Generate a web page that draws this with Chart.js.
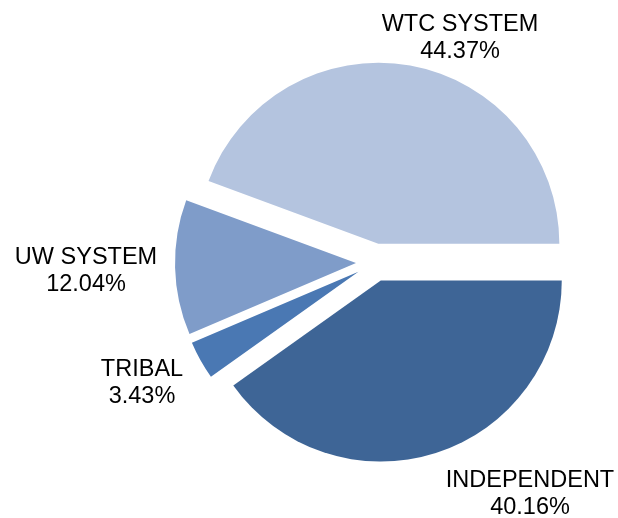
<!DOCTYPE html>
<html>
<head>
<meta charset="utf-8">
<script src="https://cdn.jsdelivr.net/npm/chart.js@4"></script>
<style>
  html, body { margin: 0; padding: 0; background: #ffffff; }
  #wrap { width: 618px; height: 518px; position: relative; }
</style>
</head>
<body>
<div id="wrap"><canvas id="c"></canvas></div>
<script>
// Data (clockwise from 3 o'clock)
const categories = ['INDEPENDENT', 'TRIBAL', 'UW SYSTEM', 'WTC SYSTEM'];
const shares = [40.16, 3.43, 12.04, 44.37];
const sliceColors = ['#3e6596', '#4a78b3', '#7f9cc9', '#b4c4df'];

// Label anchor points (first-line baseline, text centred)
const labelAnchors = [
  { x: 530, y: 487 },
  { x: 142, y: 376 },
  { x: 86,  y: 264 },
  { x: 460, y: 31 }
];

const explodePlugin = {
  id: 'explode',
  afterDatasetsUpdate(chart, args, opts) {
    const meta = chart.getDatasetMeta(0);
    const d = opts.distance || 0;
    meta.data.forEach(arc => {
      const mid = (arc.startAngle + arc.endAngle) / 2;
      arc.x = arc.x + Math.cos(mid) * d;
      arc.y = arc.y + Math.sin(mid) * d;
    });
  }
};

const labelPlugin = {
  id: 'sliceLabels',
  afterDatasetsDraw(chart, args, opts) {
    const ctx = chart.ctx;
    ctx.save();
    ctx.font = opts.font;
    ctx.fillStyle = opts.color;
    ctx.textAlign = 'center';
    ctx.textBaseline = 'alphabetic';
    const ds = chart.data.datasets[0];
    chart.data.labels.forEach((lab, i) => {
      const a = opts.anchors[i];
      ctx.fillText(lab, a.x, a.y);
      ctx.fillText(ds.data[i].toFixed(2) + '%', a.x, a.y + opts.lineHeight);
    });
    ctx.restore();
  }
};

new Chart(document.getElementById('c'), {
  type: 'pie',
  data: {
    labels: categories,
    datasets: [{
      data: shares,
      backgroundColor: sliceColors,
      borderWidth: 0
    }]
  },
  options: {
    responsive: true,
    maintainAspectRatio: false,
    animation: false,
    events: [],
    rotation: 90,
    radius: 181,
    layout: { padding: { left: 140, right: 8, top: 12, bottom: 5 } },
    plugins: {
      legend: { display: false },
      tooltip: { enabled: false },
      explode: { distance: 19 },
      sliceLabels: {
        anchors: labelAnchors,
        font: '23.5px "Liberation Sans", Arial, sans-serif',
        color: '#000000',
        lineHeight: 26.5
      }
    }
  },
  plugins: [explodePlugin, labelPlugin]
});
</script>
</body>
</html>
